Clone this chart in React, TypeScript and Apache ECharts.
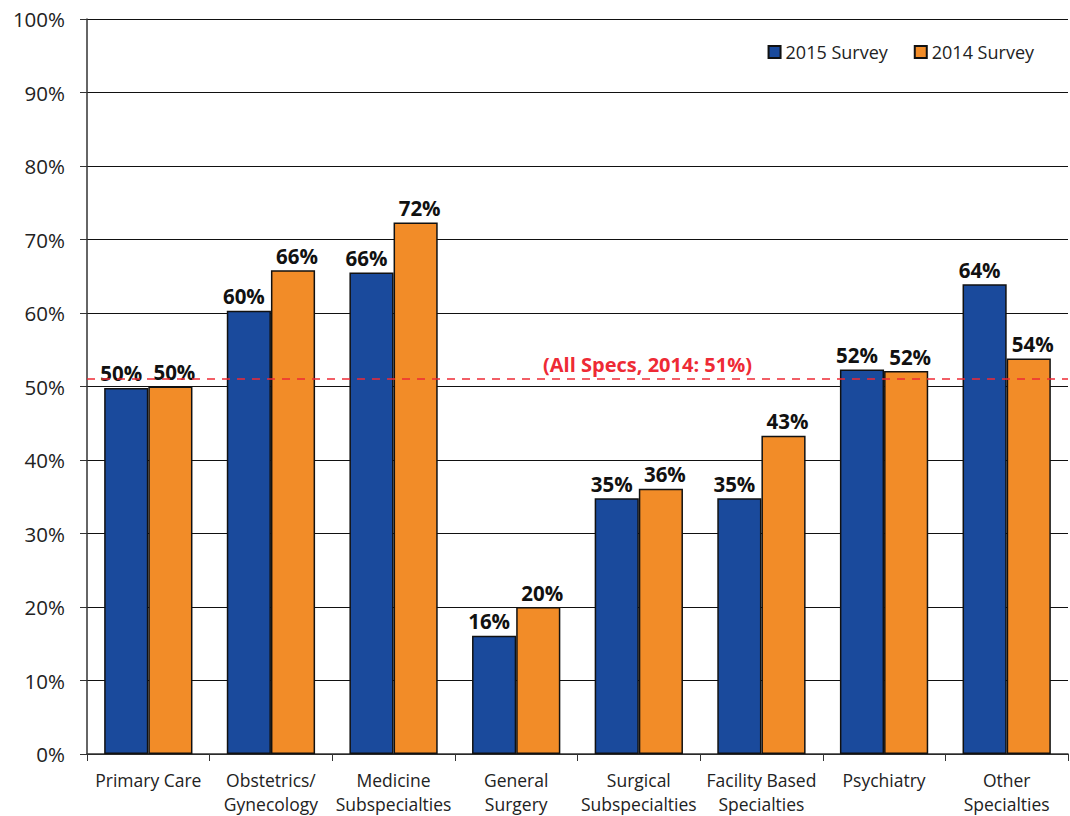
import React, { useEffect, useRef } from "react";
import * as echarts from "echarts";

const categories = [
  "Primary Care",
  "Obstetrics/\nGynecology",
  "Medicine\nSubspecialties",
  "General\nSurgery",
  "Surgical\nSubspecialties",
  "Facility Based\nSpecialties",
  "Psychiatry",
  "Other\nSpecialties",
];
const survey2015 = [49.8, 60.3, 65.5, 16.1, 34.8, 34.8, 52.3, 63.9];
const survey2014 = [50.0, 65.8, 72.3, 20.0, 36.1, 43.3, 52.1, 53.8];
const allSpecs2014 = 51;
const yTicks = [0, 10, 20, 30, 40, 50, 60, 70, 80, 90, 100];

const FONT = "'Open Sans', 'Noto Sans', sans-serif";

export default function App() {
  const ref = useRef<HTMLDivElement>(null);
  useEffect(() => {
    document.body.style.margin = "0";
    const chart = echarts.init(ref.current!, null, { renderer: "svg" });
    const barLabel = (dx: number) => ({
      show: true,
      position: "top" as const,
      distance: 4,
      offset: [dx, 0],
      formatter: (p: any) => Math.round(p.value) + "%",
      fontFamily: FONT,
      fontWeight: "bold" as const,
      fontSize: 20.5,
      color: "#111",
    });
    chart.setOption({
      animation: false,
      backgroundColor: "#fff",
      textStyle: { fontFamily: FONT },
      grid: { left: 87, right: 2, top: 19, bottom: 61, containLabel: false },
      legend: {
        top: 38,
        right: 31,
        itemWidth: 12,
        itemHeight: 12,
        itemGap: 26,
        itemTextGap: 4,
        icon: "rect",
        textStyle: { fontFamily: FONT, fontSize: 18, color: "#222" },
        data: ["2015 Survey", "2014 Survey"],
      },
      xAxis: {
        type: "category",
        data: categories,
        axisLine: { lineStyle: { color: "#333", width: 1.5 } },
        axisTick: { show: true, length: 7, inside: false, lineStyle: { color: "#333" } },
        axisLabel: {
          fontFamily: FONT,
          fontSize: 17.5,
          color: "#222",
          lineHeight: 24,
          margin: 14,
          interval: 0,
        },
      },
      yAxis: {
        type: "value",
        min: 0,
        max: 100,
        interval: 10,
        axisLine: { show: true, lineStyle: { color: "#333", width: 1.5 } },
        axisTick: { show: true, length: 7, lineStyle: { color: "#333" } },
        splitLine: { show: true, lineStyle: { color: "#111", width: 1 } },
        axisLabel: {
          fontFamily: FONT,
          fontSize: 20.5,
          color: "#222",
          margin: 22,
          formatter: (v: number) => (yTicks.includes(v) ? v + "%" : ""),
        },
      },
      series: [
        {
          name: "2015 Survey",
          type: "bar",
          data: survey2015,
          barGap: "0%",
          barCategoryGap: "28%",
          itemStyle: { color: "#1a4a9c", borderColor: "#111", borderWidth: 1.5 },
          label: barLabel(-5),
          markLine: {
            silent: true,
            symbol: "none",
            data: [{ yAxis: allSpecs2014 }],
            lineStyle: { color: "#ee2a35", type: [8, 7], width: 1.5 },
            label: {
              show: true,
              position: "insideMiddleTop",
              formatter: "(All Specs, 2014: 51%)",
              fontFamily: FONT,
              fontWeight: "bold",
              fontSize: 20,
              color: "#ee2a35",
              distance: 5,
              offset: [70, 0],
            },
          },
        },
        {
          name: "2014 Survey",
          type: "bar",
          data: survey2014,
          itemStyle: { color: "#f28c28", borderColor: "#111", borderWidth: 1.5 },
          label: barLabel(4),
        },
      ],
    });
    return () => chart.dispose();
  }, []);
  return <div ref={ref} style={{ width: 1070, height: 816 }} />;
}
